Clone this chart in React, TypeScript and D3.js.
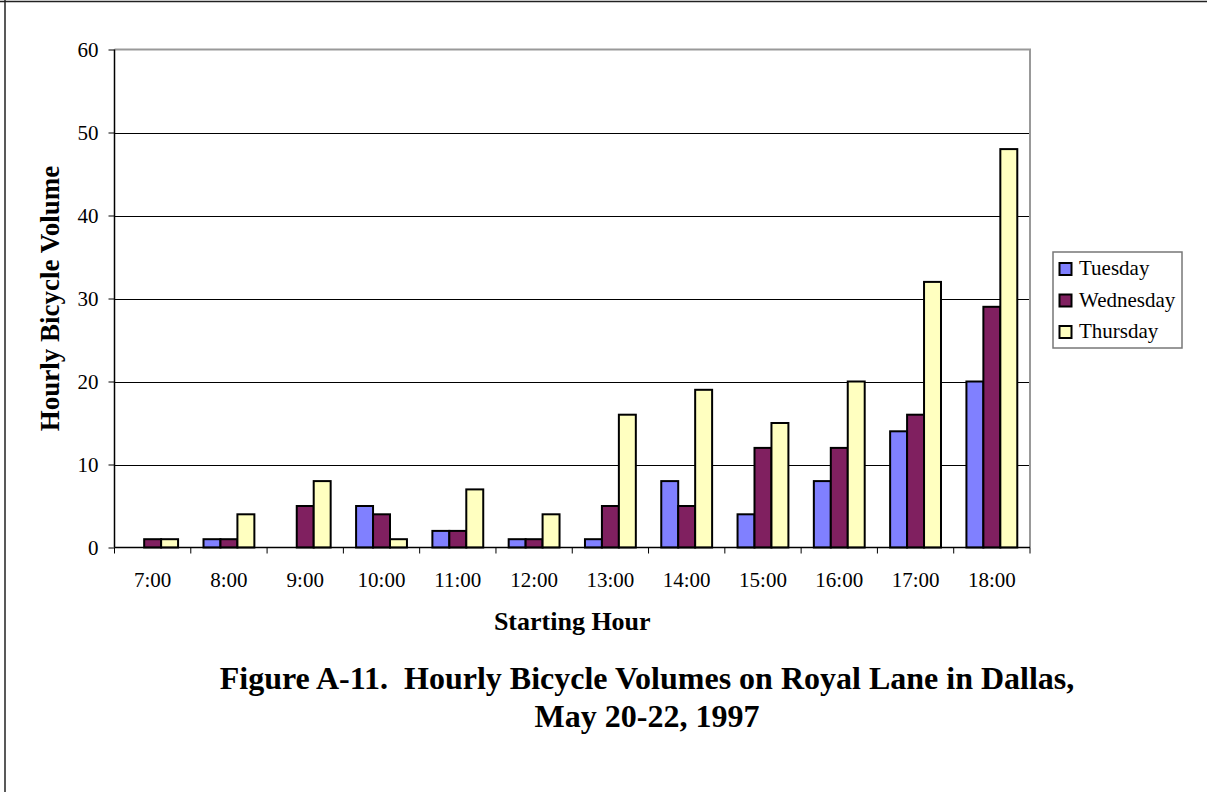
import { useEffect, useRef } from 'react';
import * as d3 from 'd3';

const hours = ['7:00', '8:00', '9:00', '10:00', '11:00', '12:00', '13:00', '14:00', '15:00', '16:00', '17:00', '18:00'];
const seriesNames = ['Tuesday', 'Wednesday', 'Thursday'];
const tuesday = [0, 1, 0, 5, 2, 1, 1, 8, 4, 8, 14, 20];
const wednesday = [1, 1, 5, 4, 2, 1, 5, 5, 12, 12, 16, 29];
const thursday = [1, 4, 8, 1, 7, 4, 16, 19, 15, 20, 32, 48];
const yTicks = [0, 10, 20, 30, 40, 50, 60];
const colors = ['#8080ff', '#802060', '#ffffc0'];

export default function App() {
  const svgRef = useRef<SVGSVGElement>(null);

  useEffect(() => {
    if (!svgRef.current) return;
    const W = 1207, H = 792;
    const svg = d3.select(svgRef.current);
    svg.selectAll('*').remove();
    svg.attr('width', W).attr('height', H);
    const font = '"Liberation Serif", "Times New Roman", serif';

    // outer frame
    svg.append('line').attr('x1', 0).attr('x2', W).attr('y1', 1.5).attr('y2', 1.5).attr('stroke', '#222').attr('stroke-width', 1.5);
    svg.append('line').attr('x1', 5).attr('x2', 5).attr('y1', 0).attr('y2', H).attr('stroke', '#222').attr('stroke-width', 1.5);

    const left = 114.5, right = 1030, top = 49.5, bottom = 547.5;

    const x = d3.scaleBand<string>().domain(hours).range([left, right]);
    const y = d3.scaleLinear().domain([0, 60]).range([bottom, top]);
    const x1 = d3.scaleBand<string>().domain(seriesNames).range([0, x.bandwidth()]).paddingInner(0).paddingOuter(0.75);

    // gridlines
    svg.append('g').selectAll('line').data(yTicks.filter((t) => t > 0 && t < 60)).enter().append('line')
      .attr('x1', left).attr('x2', right).attr('y1', (d) => Math.round(y(d)) + 0.5).attr('y2', (d) => Math.round(y(d)) + 0.5)
      .attr('stroke', '#000').attr('stroke-width', 1);

    // plot frame (gray top/right)
    svg.append('path').attr('d', `M${left},${top}H${right}V${bottom}`).attr('fill', 'none').attr('stroke', '#999').attr('stroke-width', 2);

    const series = [tuesday, wednesday, thursday];
    const g = svg.append('g');
    series.forEach((vals, si) => {
      g.selectAll(`.bar${si}`).data(vals.map((v, i) => ({ v, h: hours[i] })).filter((d) => d.v > 0)).enter().append('rect')
        .attr('x', (d) => (x(d.h) ?? 0) + (x1(seriesNames[si]) ?? 0))
        .attr('y', (d) => y(d.v))
        .attr('width', x1.bandwidth())
        .attr('height', (d) => bottom - y(d.v))
        .attr('fill', colors[si]).attr('stroke', '#000').attr('stroke-width', 2);
    });

    // y axis
    const ya = svg.append('g').attr('transform', `translate(${left},0)`)
      .call(d3.axisLeft(y).tickValues(yTicks).tickSize(6).tickPadding(10).tickFormat(d3.format('d')));
    ya.select('.domain').attr('stroke', '#000').attr('stroke-width', 1.5).attr('d', `M0,${top}V${bottom}`);
    ya.selectAll('.tick line').attr('stroke', '#000');
    ya.selectAll('text').attr('font-family', font).attr('font-size', 21).attr('fill', '#000');

    // x axis
    const xa = svg.append('g').attr('transform', `translate(0,${bottom})`)
      .call(d3.axisBottom(x).tickSize(0).tickPadding(0));
    xa.select('.domain').attr('stroke', '#000').attr('stroke-width', 1.5).attr('d', `M${left},0H${right}`);
    xa.selectAll('text').attr('font-family', font).attr('font-size', 21).attr('fill', '#000').attr('dy', null).attr('y', 39);
    const bounds = hours.map((h) => x(h) ?? 0).concat([right]);
    xa.selectAll('.bound').data(bounds).enter().append('line')
      .attr('x1', (d) => d).attr('x2', (d) => d).attr('y1', 0).attr('y2', 6).attr('stroke', '#000');

    // axis titles
    svg.append('text').attr('x', (left + right) / 2).attr('y', 630).attr('text-anchor', 'middle')
      .attr('font-family', font).attr('font-weight', 'bold').attr('font-size', 26).text('Starting Hour');
    svg.append('text').attr('transform', `translate(59,${(top + bottom) / 2}) rotate(-90)`).attr('text-anchor', 'middle')
      .attr('font-family', font).attr('font-weight', 'bold').attr('font-size', 27).text('Hourly Bicycle Volume');

    // figure caption
    svg.append('text').attr('x', 647).attr('y', 689).attr('text-anchor', 'middle').style('white-space', 'pre')
      .attr('font-family', font).attr('font-weight', 'bold').attr('font-size', 32)
      .text('Figure A-11.  Hourly Bicycle Volumes on Royal Lane in Dallas,');
    svg.append('text').attr('x', 647).attr('y', 727).attr('text-anchor', 'middle')
      .attr('font-family', font).attr('font-weight', 'bold').attr('font-size', 32)
      .text('May 20-22, 1997');

    // legend
    const lg = svg.append('g').attr('transform', 'translate(1053,252)');
    lg.append('rect').attr('width', 129).attr('height', 96).attr('fill', '#fff').attr('stroke', '#777').attr('stroke-width', 1.5);
    seriesNames.forEach((name, i) => {
      const base = 23 + i * 31.5;
      lg.append('rect').attr('x', 6.5).attr('y', base - 12).attr('width', 12).attr('height', 12)
        .attr('fill', colors[i]).attr('stroke', '#000').attr('stroke-width', 2);
      lg.append('text').attr('x', 26).attr('y', base).attr('font-family', font).attr('font-size', 21).text(name);
    });
  }, []);

  return <svg ref={svgRef} style={{ position: 'absolute', left: 0, top: 0, background: '#fff' }} />;
}
